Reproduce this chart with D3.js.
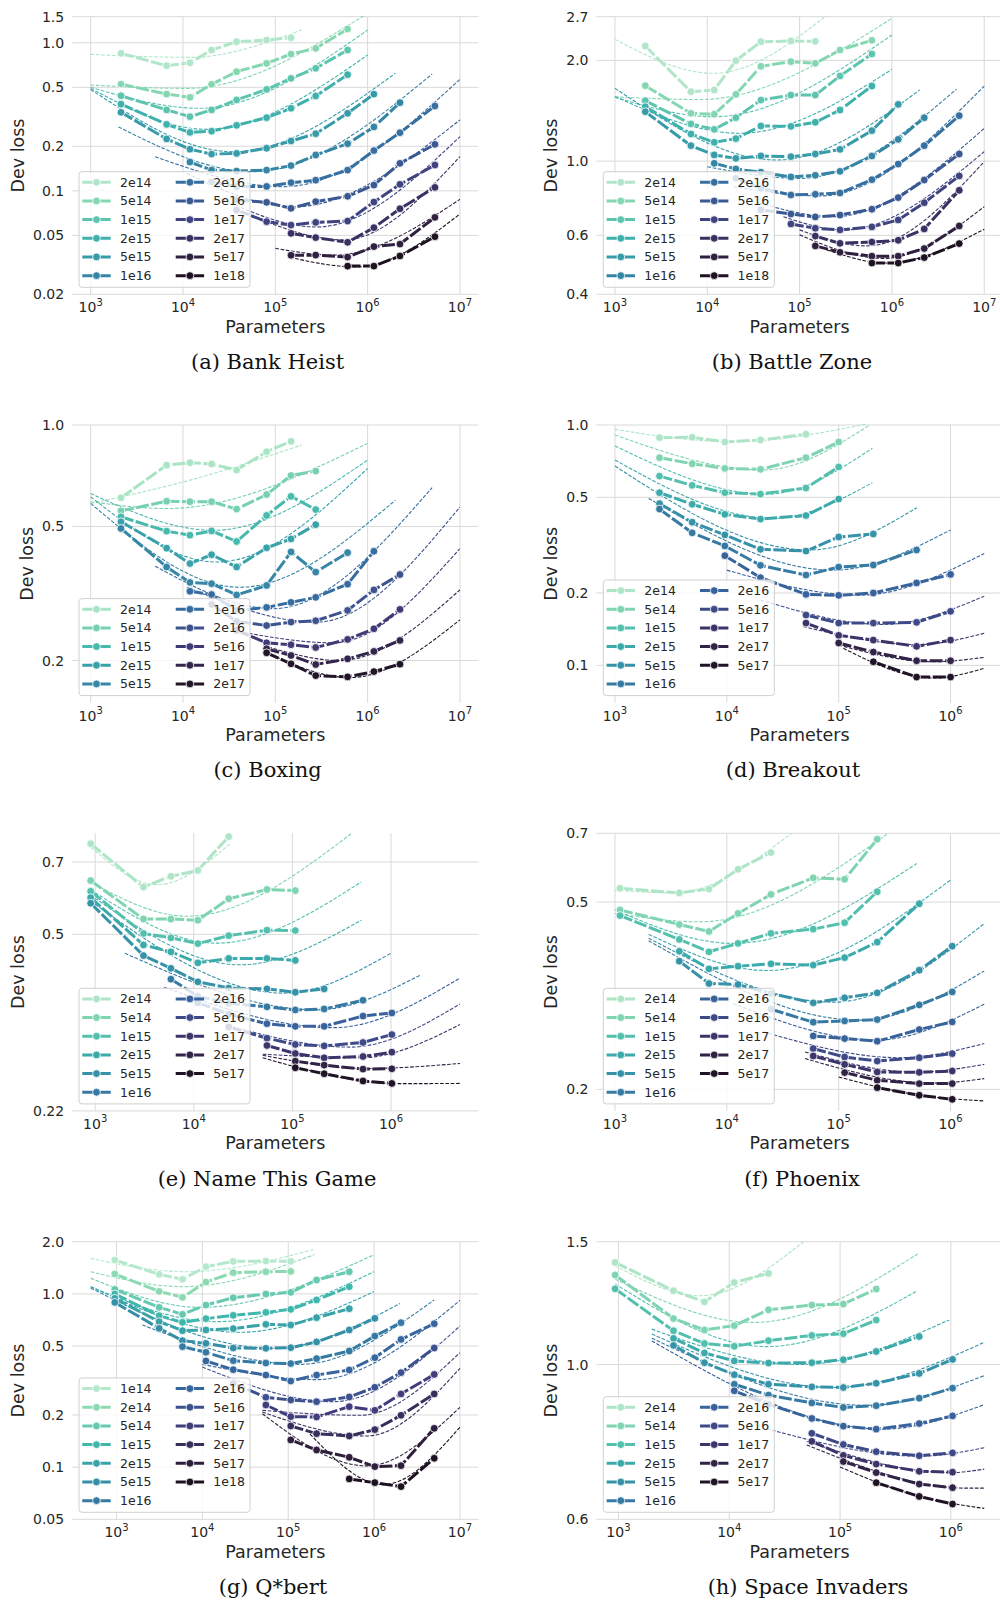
<!DOCTYPE html>
<html><head><meta charset="utf-8">
<script src="https://cdn.jsdelivr.net/npm/d3@7"></script>
<style>body{margin:0;background:#fff}svg{display:block}</style>
</head><body>
<svg id="fig" width="1000" height="1602"></svg>
<script>
// ---------------- DATA ----------------
// (a) Bank Heist
const bankHeistParams = [2130, 6650, 11900, 20400, 38100, 80500, 148000, 274000, 607000, 1170000, 2240000, 5360000];
const bankHeistBudgets = ["2e14","5e14","1e15","2e15","5e15","1e16","2e16","5e16","1e17","2e17","5e17","1e18"];
const bankHeistFirst = [0,0,0,0,0,2,3,4,4,6,6,8];
const bankHeistLoss = [
  [0.848, 0.700, 0.733, 0.893, 1.017, 1.043, 1.082],
  [0.526, 0.450, 0.428, 0.524, 0.638, 0.726, 0.839, 0.917, 1.238],
  [0.439, 0.352, 0.317, 0.352, 0.411, 0.484, 0.575, 0.672, 0.893],
  [0.385, 0.281, 0.248, 0.253, 0.277, 0.312, 0.361, 0.437, 0.609],
  [0.339, 0.224, 0.191, 0.177, 0.179, 0.194, 0.217, 0.243, 0.334, 0.450],
  [0.1565, 0.138, 0.136, 0.138, 0.148, 0.1745, 0.208, 0.270, 0.394],
  [0.115, 0.107, 0.107, 0.1135, 0.118, 0.138, 0.187, 0.247, 0.374],
  [0.0867, 0.0836, 0.0762, 0.0845, 0.0918, 0.1094, 0.1533, 0.206],
  [0.0742, 0.0619, 0.0587, 0.0612, 0.0625, 0.0840, 0.1106, 0.1494],
  [0.0516, 0.0483, 0.0449, 0.0564, 0.0757, 0.1055],
  [0.0367, 0.0368, 0.0357, 0.0420, 0.0437, 0.0662],
  [0.0310, 0.0310, 0.0363, 0.049]
];
const bankHeistFits = [
  [[1e3,0.835],[1.19e4,0.797],[1.93e5,1.219]],
  [[1e3,0.518],[1.1e4,0.492],[1e6,1.58]],
  [[1e3,0.50],[1.53e4,0.361],[1e6,1.219]],
  [[1e3,0.492],[1.8e4,0.260],[1e6,0.826]],
  [[1e3,0.484],[3.51e4,0.1838],[2e6,0.622]],
  [[2e3,0.270],[5.78e4,0.1347],[5e6,0.615]],
  [[5e3,0.170],[1.22e5,0.1066],[1e7,0.566]],
  [[1.1e4,0.131],[1.57e5,0.0779],[1e7,0.301]],
  [[2.32e4,0.0913],[2.8e5,0.0570],[1e7,0.232]],
  [[5.78e4,0.0669],[5.45e5,0.0466],[1e7,0.170]],
  [[1e5,0.0409],[4.25e5,0.0368],[1e7,0.0876]],
  [[1.44e5,0.0355],[7.6e5,0.0306],[1e7,0.0697]]
];
const bankHeistYRange = [0.02, 1.5];
const bankHeistYTicks = [0.02, 0.05, 0.1, 0.2, 0.5, 1.0, 1.5];
const bankHeistYTickLabels = ["0.02","0.05","0.1","0.2","0.5","1.0","1.5"];

// (b) Battle Zone
const battleZoneParams = [2130, 6650, 11900, 20400, 38100, 80500, 148000, 274000, 607000, 1170000, 2240000, 5360000];
const battleZoneBudgets = ["2e14","5e14","1e15","2e15","5e15","1e16","2e16","5e16","1e17","2e17","5e17","1e18"];
const battleZoneFirst = [0,0,0,0,0,2,3,4,5,6,6,8];
const battleZoneLoss = [
  [2.207, 1.612, 1.631, 1.995, 2.273, 2.284, 2.279],
  [1.680, 1.389, 1.380, 1.582, 1.919, 1.982, 1.959, 2.147, 2.295],
  [1.515, 1.291, 1.244, 1.348, 1.522, 1.575, 1.575, 1.796, 2.089],
  [1.454, 1.205, 1.138, 1.167, 1.273, 1.270, 1.306, 1.421, 1.676],
  [1.405, 1.112, 1.043, 1.019, 1.036, 1.031, 1.050, 1.084, 1.233, 1.477],
  [0.985, 0.947, 0.926, 0.897, 0.907, 0.932, 1.036, 1.161, 1.348],
  [0.888, 0.829, 0.792, 0.796, 0.803, 0.880, 0.980, 1.112, 1.367],
  [0.715, 0.695, 0.681, 0.690, 0.718, 0.778, 0.878, 1.050],
  [0.649, 0.630, 0.623, 0.636, 0.667, 0.751, 0.903],
  [0.597, 0.568, 0.573, 0.580, 0.627, 0.818],
  [0.558, 0.534, 0.520, 0.520, 0.548, 0.640],
  [0.496, 0.496, 0.515, 0.567]
];
const battleZoneFits = [
  [[1e3,2.31],[1.16e4,1.829],[2.33e5,2.83]],
  [[1e3,1.557],[8.3e3,1.527],[1e6,2.67]],
  [[1e3,1.553],[1.16e4,1.357],[1e6,2.380]],
  [[1e3,1.557],[2.26e4,1.211],[1e6,1.879]],
  [[1e3,1.65],[5.65e4,1.008],[2e6,1.631]],
  [[1e4,0.962],[1e5,0.888],[5e6,1.64]],
  [[1.92e4,0.839],[1.67e5,0.787],[1e7,1.676]],
  [[3.73e4,0.748],[2.33e5,0.682],[1e7,1.253]],
  [[6.68e4,0.682],[2.99e5,0.623],[1e7,1.067]],
  [[1e5,0.623],[5.35e5,0.558],[1e7,0.996]],
  [[1e5,0.602],[8.1e5,0.512],[1e7,0.731]],
  [[1.97e5,0.543],[8.8e5,0.496],[1e7,0.626]]
];
const battleZoneYRange = [0.4, 2.7];
const battleZoneYTicks = [0.4, 0.6, 1.0, 2.0, 2.7];
const battleZoneYTickLabels = ["0.4","0.6","1.0","2.0","2.7"];

// (c) Boxing
const boxingParams = [2130, 6650, 11900, 20400, 38100, 80500, 148000, 274000, 607000, 1170000, 2240000];
const boxingBudgets = ["2e14","5e14","1e15","2e15","5e15","1e16","2e16","5e16","1e17","2e17"];
const boxingFirst = [0,0,0,0,0,2,3,4,5,5];
const boxingLoss = [
  [0.608, 0.760, 0.773, 0.766, 0.735, 0.833, 0.894],
  [0.556, 0.594, 0.592, 0.592, 0.563, 0.622, 0.708, 0.730],
  [0.534, 0.484, 0.471, 0.485, 0.451, 0.539, 0.614, 0.561],
  [0.516, 0.431, 0.388, 0.412, 0.379, 0.432, 0.459, 0.506],
  [0.493, 0.379, 0.341, 0.338, 0.313, 0.334, 0.420, 0.366, 0.418],
  [0.321, 0.314, 0.2816, 0.2875, 0.2976, 0.308, 0.337, 0.422],
  [0.2935, 0.2612, 0.254, 0.260, 0.2624, 0.2816, 0.324, 0.360],
  [0.2456, 0.2257, 0.2227, 0.2186, 0.231, 0.2484, 0.2836],
  [0.2167, 0.2070, 0.1946, 0.2023, 0.2128, 0.2294],
  [0.2108, 0.1955, 0.1804, 0.1788, 0.1854, 0.1950]
];
const boxingFits = [
  [[1e3,0.585],[1.19e4,0.686],[1.93e5,0.872]],
  [[1e3,0.592],[6.65e3,0.565],[1e6,0.882]],
  [[1e3,0.626],[2.13e4,0.487],[1e6,0.787]],
  [[1e3,0.612],[2.32e4,0.392],[1e6,0.743]],
  [[1e3,0.585],[4.14e4,0.330],[2e6,0.598]],
  [[5e3,0.381],[9.5e4,0.285],[5e6,0.652]],
  [[1.1e4,0.330],[2.8e5,0.260],[1e7,0.571]],
  [[3.51e4,0.2456],[4.25e5,0.2257],[1e7,0.430]],
  [[7.41e4,0.2216],[5e5,0.200],[1e7,0.324]],
  [[8.05e4,0.2108],[6.44e5,0.178],[1e7,0.264]]
];
const boxingYRange = [0.15, 1.0];
const boxingYTicks = [0.2, 0.5, 1.0];
const boxingYTickLabels = ["0.2","0.5","1.0"];

// (d) Breakout
const breakoutParams = [2500, 4900, 9600, 20000, 51000, 100000, 204000, 497000, 1000000];
const breakoutBudgets = ["2e14","5e14","1e15","2e15","5e15","1e16","2e16","5e16","1e17","2e17","5e17"];
const breakoutFirst = [0,0,0,0,0,0,2,4,4,5,6];
const breakoutLoss = [
  [0.886, 0.889, 0.850, 0.866, 0.915],
  [0.731, 0.690, 0.660, 0.654, 0.731, 0.850],
  [0.613, 0.561, 0.523, 0.516, 0.547, 0.669],
  [0.523, 0.468, 0.425, 0.406, 0.420, 0.492],
  [0.471, 0.394, 0.349, 0.304, 0.299, 0.342, 0.352],
  [0.447, 0.356, 0.314, 0.2607, 0.2376, 0.2565, 0.2615, 0.302],
  [0.286, 0.2316, 0.1974, 0.1956, 0.200, 0.2202, 0.239],
  [0.162, 0.150, 0.150, 0.151, 0.1678],
  [0.150, 0.1333, 0.1274, 0.120, 0.1274],
  [0.1239, 0.1136, 0.1045, 0.1045],
  [0.1035, 0.0894, 0.0894]
];
const breakoutFits = [
  [[1e3,0.959],[1.14e4,0.852],[1.78e5,1.01]],
  [[1e3,0.909],[2.12e4,0.650],[1.9e5,1.0]],
  [[1e3,0.818],[2.27e4,0.515],[2e5,0.800]],
  [[1e3,0.715],[2.6e4,0.409],[2e5,0.575]],
  [[1e3,0.675],[5.53e4,0.302],[5e5,0.453]],
  [[2e3,0.495],[8.94e4,0.249],[1e6,0.366]],
  [[1e4,0.249],[1.55e5,0.196],[2e6,0.292]],
  [[2e4,0.187],[2.5e5,0.148],[2e6,0.194]],
  [[4.82e4,0.145],[5e5,0.122],[2e6,0.136]],
  [[1e5,0.1215],[7e5,0.1035],[2e6,0.108]],
  [[1.1e5,0.1177],[7e5,0.0886],[2e6,0.0972]]
];
const breakoutYRange = [0.07, 1.0];
const breakoutYTicks = [0.1, 0.2, 0.5, 1.0];
const breakoutYTickLabels = ["0.1","0.2","0.5","1.0"];

// (e) Name This Game
const nameThisGameParams = [900, 3090, 5860, 11000, 22600, 55200, 107000, 210000, 520000, 1020000];
const nameThisGameBudgets = ["2e14","5e14","1e15","2e15","5e15","1e16","2e16","5e16","1e17","2e17","5e17"];
const nameThisGameFirst = [0,0,0,0,0,2,3,4,5,6,6];
const nameThisGameLoss = [
  [0.762, 0.623, 0.655, 0.673, 0.788],
  [0.642, 0.537, 0.537, 0.534, 0.590, 0.616, 0.613],
  [0.611, 0.502, 0.492, 0.479, 0.497, 0.510, 0.509],
  [0.593, 0.476, 0.461, 0.438, 0.447, 0.447, 0.443],
  [0.578, 0.453, 0.427, 0.401, 0.3895, 0.388, 0.382, 0.388],
  [0.406, 0.375, 0.363, 0.357, 0.3518, 0.3534, 0.368],
  [0.364, 0.345, 0.330, 0.326, 0.326, 0.342, 0.3469],
  [0.325, 0.3085, 0.2996, 0.2977, 0.3024, 0.3138],
  [0.2982, 0.2873, 0.2816, 0.2833, 0.2891],
  [0.2773, 0.2722, 0.2672, 0.2676],
  [0.2689, 0.2615, 0.2528, 0.250]
];
const nameThisGameFits = [
  [[900,0.75],[4.23e3,0.63],[2.34e4,0.762]],
  [[900,0.637],[8.5e3,0.544],[4e5,0.80]],
  [[900,0.615],[1.71e4,0.480],[5e5,0.638]],
  [[900,0.600],[2.96e4,0.434],[5e5,0.534]],
  [[900,0.584],[8.15e4,0.3805],[1e6,0.458]],
  [[2e3,0.458],[1.77e5,0.352],[2e6,0.414]],
  [[5e3,0.391],[2.62e5,0.324],[5e6,0.408]],
  [[2.17e4,0.3275],[3.86e5,0.296],[5e6,0.3616]],
  [[5e4,0.2864],[4.88e5,0.2816],[5e6,0.3287]],
  [[5e4,0.285],[5.7e5,0.268],[5e6,0.2743]],
  [[5e4,0.2816],[1.24e6,0.2497],[5e6,0.250]]
];
const nameThisGameYRange = [0.22, 0.8];
const nameThisGameYTicks = [0.22, 0.5, 0.7];
const nameThisGameYTickLabels = ["0.22","0.5","0.7"];

// (f) Phoenix
const phoenixParams = [1110, 3760, 6920, 12600, 24800, 59200, 113000, 221000, 525000, 1035000];
const phoenixBudgets = ["2e14","5e14","1e15","2e15","5e15","1e16","2e16","5e16","1e17","2e17","5e17"];
const phoenixFirst = [0,0,0,1,1,4,5,5,5,6,7];
const phoenixLoss = [
  [0.535, 0.523, 0.533, 0.587, 0.637],
  [0.481, 0.448, 0.433, 0.473, 0.519, 0.563, 0.559, 0.680],
  [0.468, 0.4165, 0.392, 0.4085, 0.429, 0.438, 0.452, 0.526],
  [0.393, 0.3607, 0.3654, 0.3696, 0.3673, 0.381, 0.411, 0.496],
  [0.3745, 0.3357, 0.334, 0.3196, 0.3054, 0.313, 0.3207, 0.3583, 0.403],
  [0.296, 0.2778, 0.2795, 0.2814, 0.3024, 0.3222],
  [0.2598, 0.2564, 0.2531, 0.2680, 0.2782],
  [0.2442, 0.2343, 0.2297, 0.2335, 0.2382],
  [0.2355, 0.2260, 0.2178, 0.2174, 0.2188],
  [0.2171, 0.2091, 0.2057, 0.2057],
  [0.2017, 0.1943, 0.1905]
];
const phoenixFits = [
  [[1e3,0.530],[3.32e3,0.523],[3.79e4,0.70]],
  [[1e3,0.473],[5.75e3,0.454],[2.77e5,0.70]],
  [[1e3,0.481],[1.14e4,0.4085],[5e5,0.604]],
  [[2e3,0.427],[2.27e4,0.3578],[1e6,0.557]],
  [[2e3,0.419],[8.94e4,0.3064],[2e6,0.450]],
  [[2e3,0.4137],[1.55e5,0.2806],[2e6,0.357]],
  [[1.14e4,0.3043],[2.18e5,0.2545],[2e6,0.3034]],
  [[2.12e4,0.265],[3.52e5,0.2335],[2e6,0.2502]],
  [[5e4,0.2402],[4.97e5,0.2176],[2e6,0.226]],
  [[5e4,0.2325],[7e5,0.2062],[2e6,0.2108]],
  [[1e5,0.2125],[5.32e5,0.1943],[2e6,0.189]]
];
const phoenixYRange = [0.18, 0.7];
const phoenixYTicks = [0.2, 0.5, 0.7];
const phoenixYTickLabels = ["0.2","0.5","0.7"];

// (g) Q*bert
const qbertParams = [955, 3140, 5870, 11000, 22900, 54900, 107000, 214000, 514000, 1020000, 2060000, 5020000];
const qbertBudgets = ["1e14","2e14","5e14","1e15","2e15","5e15","1e16","2e16","5e16","1e17","2e17","5e17","1e18"];
const qbertFirst = [0,0,0,0,0,0,2,3,4,5,6,6,8];
const qbertLoss = [
  [1.567, 1.296, 1.213, 1.435, 1.540, 1.547, 1.540],
  [1.302, 1.034, 0.955, 1.170, 1.325, 1.342, 1.348],
  [1.062, 0.836, 0.762, 0.862, 0.950, 0.998, 1.020, 1.202, 1.342],
  [0.998, 0.748, 0.685, 0.719, 0.752, 0.782, 0.814, 0.922, 1.100],
  [0.942, 0.691, 0.613, 0.619, 0.630, 0.667, 0.661, 0.729, 0.821],
  [0.893, 0.632, 0.537, 0.518, 0.487, 0.485, 0.489, 0.528, 0.619, 0.722],
  [0.496, 0.460, 0.4115, 0.399, 0.396, 0.423, 0.468, 0.571, 0.682],
  [0.410, 0.365, 0.340, 0.314, 0.340, 0.3636, 0.428, 0.546, 0.673],
  [0.3045, 0.2529, 0.2441, 0.2387, 0.254, 0.2888, 0.351, 0.487],
  [0.2284, 0.1956, 0.1948, 0.2234, 0.2127, 0.2644, 0.343],
  [0.1728, 0.1561, 0.1513, 0.1646, 0.1991, 0.2644],
  [0.1435, 0.1256, 0.1140, 0.1007, 0.1020, 0.1675],
  [0.0855, 0.0814, 0.0772, 0.1125]
];
const qbertFits = [
  [[500,1.602],[6.55e3,1.342],[2e5,1.806]],
  [[500,1.342],[5.98e3,1.10],[2e5,1.68]],
  [[500,1.232],[9.35e3,0.836],[1e6,1.68]],
  [[500,1.10],[1.46e4,0.691],[1e6,1.342]],
  [[500,1.10],[2.73e4,0.60],[1e6,1.03]],
  [[500,1.08],[6.69e4,0.485],[2e6,0.88]],
  [[2e3,0.661],[1.37e5,0.392],[5e6,0.922]],
  [[1e4,0.392],[2.14e5,0.32],[1e7,0.917]],
  [[1e4,0.378],[3.34e5,0.2387],[1e7,0.652]],
  [[5e4,0.2127],[6.84e5,0.1991],[1e7,0.4576]],
  [[5e4,0.208],[8.18e5,0.1513],[1e7,0.3717]],
  [[5e4,0.2033],[8.18e5,0.1017],[1e7,0.2214]],
  [[1.79e5,0.1553],[1.28e6,0.0793],[1e7,0.1698]]
];
const qbertYRange = [0.05, 2.0];
const qbertYTicks = [0.05, 0.1, 0.2, 0.5, 1.0, 2.0];
const qbertYTickLabels = ["0.05","0.1","0.2","0.5","1.0","2.0"];

// (h) Space Invaders
const spaceInvadersParams = [933, 3140, 5970, 11100, 22600, 55600, 107000, 212000, 518000, 1035000];
const spaceInvadersBudgets = ["2e14","5e14","1e15","2e15","5e15","1e16","2e16","5e16","1e17","2e17","5e17"];
const spaceInvadersFirst = [0,0,0,1,1,3,3,5,5,6,7];
const spaceInvadersLoss = [
  [1.401, 1.276, 1.230, 1.311, 1.351],
  [1.344, 1.164, 1.121, 1.137, 1.198, 1.217, 1.221, 1.283],
  [1.284, 1.118, 1.072, 1.062, 1.082, 1.101, 1.107, 1.158],
  [1.090, 1.039, 1.012, 1.005, 1.006, 1.016, 1.044, 1.097],
  [1.065, 1.006, 0.967, 0.937, 0.929, 0.927, 0.940, 0.971, 1.017],
  [0.937, 0.904, 0.881, 0.868, 0.873, 0.895, 0.925],
  [0.917, 0.877, 0.837, 0.816, 0.808, 0.823, 0.844],
  [0.797, 0.768, 0.750, 0.740, 0.747],
  [0.776, 0.741, 0.720, 0.703, 0.701],
  [0.726, 0.700, 0.674, 0.666],
  [0.677, 0.647, 0.631]
];
const spaceInvadersFits = [
  [[930,1.386],[5.46e3,1.255],[4.68e4,1.5]],
  [[930,1.326],[1.66e4,1.149],[5e5,1.44]],
  [[930,1.305],[2.18e4,1.061],[5e5,1.276]],
  [[2e3,1.124],[4.37e4,1.0],[1e6,1.162]],
  [[2e3,1.106],[8.73e4,0.927],[2e6,1.076]],
  [[2e3,1.091],[1.75e5,0.874],[2e6,0.964]],
  [[2e3,1.081],[2.47e5,0.808],[2e6,0.876]],
  [[2.18e4,0.809],[5.29e5,0.739],[2e6,0.760]],
  [[5e4,0.776],[9.86e5,0.700],[2e6,0.708]],
  [[5e4,0.767],[1.4e6,0.665],[2e6,0.665]],
  [[1e5,0.713],[5.18e5,0.647],[2e6,0.622]]
];
const spaceInvadersYRange = [0.6, 1.5];
const spaceInvadersYTicks = [0.6, 1.0, 1.5];
const spaceInvadersYTickLabels = ["0.6","1.0","1.5"];

// ---------------- DRAWING ----------------
const panels = [
  {params: bankHeistParams, budgets: bankHeistBudgets, first: bankHeistFirst, loss: bankHeistLoss, fits: bankHeistFits,
   yr: bankHeistYRange, yt: bankHeistYTicks, ytl: bankHeistYTickLabels, caption: "(a) Bank Heist", col: 0, row: 0, capX: 267.6},
  {params: battleZoneParams, budgets: battleZoneBudgets, first: battleZoneFirst, loss: battleZoneLoss, fits: battleZoneFits,
   yr: battleZoneYRange, yt: battleZoneYTicks, ytl: battleZoneYTickLabels, caption: "(b) Battle Zone", col: 1, row: 0, capX: 792},
  {params: boxingParams, budgets: boxingBudgets, first: boxingFirst, loss: boxingLoss, fits: boxingFits,
   yr: boxingYRange, yt: boxingYTicks, ytl: boxingYTickLabels, caption: "(c) Boxing", col: 0, row: 1, capX: 267.6},
  {params: breakoutParams, budgets: breakoutBudgets, first: breakoutFirst, loss: breakoutLoss, fits: breakoutFits,
   yr: breakoutYRange, yt: breakoutYTicks, ytl: breakoutYTickLabels, caption: "(d) Breakout", col: 1, row: 1, capX: 793},
  {params: nameThisGameParams, budgets: nameThisGameBudgets, first: nameThisGameFirst, loss: nameThisGameLoss, fits: nameThisGameFits,
   yr: nameThisGameYRange, yt: nameThisGameYTicks, ytl: nameThisGameYTickLabels, caption: "(e) Name This Game", col: 0, row: 2, capX: 267},
  {params: phoenixParams, budgets: phoenixBudgets, first: phoenixFirst, loss: phoenixLoss, fits: phoenixFits,
   yr: phoenixYRange, yt: phoenixYTicks, ytl: phoenixYTickLabels, caption: "(f) Phoenix", col: 1, row: 2, capX: 802},
  {params: qbertParams, budgets: qbertBudgets, first: qbertFirst, loss: qbertLoss, fits: qbertFits,
   yr: qbertYRange, yt: qbertYTicks, ytl: qbertYTickLabels, caption: "(g) Q*bert", col: 0, row: 3, capX: 273},
  {params: spaceInvadersParams, budgets: spaceInvadersBudgets, first: spaceInvadersFirst, loss: spaceInvadersLoss, fits: spaceInvadersFits,
   yr: spaceInvadersYRange, yt: spaceInvadersYTicks, ytl: spaceInvadersYTickLabels, caption: "(h) Space Invaders", col: 1, row: 3, capX: 808}
];

const svg = d3.select("#fig");
const colX = [72.2, 596.5], W = 406.2;
const rowY = [16.7, 425, 833.3, 1241.7], H = 277.6;
const makoStops = ["#0b0405","#2e1e3b","#413d7b","#37659e","#348fa7","#40b7ad","#8bdab2","#def5e5"];
const mako = d3.piecewise(d3.interpolateRgb, makoStops);
const SANS = "DejaVu Sans, sans-serif";
const TXT = "#262626";
const GRID = "#d9d9d9";

panels.forEach((p, pi) => {
  const x0 = colX[p.col], y0 = rowY[p.row];
  const n = p.budgets.length;
  const color = i => mako(1 - (i + 1) / (n + 1));
  const logs = p.params.concat(p.fits.flat().map(d => d[0])).map(Math.log10);
  const [lo, hi] = d3.extent(logs);
  const pad = (hi - lo) * 0.05;
  const x = d3.scaleLog().domain([Math.pow(10, lo - pad), Math.pow(10, hi + pad)]).range([x0, x0 + W]);
  const y = d3.scaleLog().domain(p.yr).range([y0 + H, y0]);
  const g = svg.append("g");
  const clipId = "clip" + pi;
  g.append("clipPath").attr("id", clipId).append("rect")
    .attr("x", x0).attr("y", y0 - 1).attr("width", W).attr("height", H + 2);

  // grid
  const decades = d3.range(Math.ceil(lo - pad), Math.floor(hi + pad) + 1);
  g.selectAll(".vg").data(decades).join("line")
    .attr("x1", d => x(Math.pow(10, d))).attr("x2", d => x(Math.pow(10, d)))
    .attr("y1", y0).attr("y2", y0 + H).attr("stroke", GRID).attr("stroke-width", 1);
  g.selectAll(".hg").data(p.yt).join("line")
    .attr("x1", x0).attr("x2", x0 + W).attr("y1", d => y(d)).attr("y2", d => y(d))
    .attr("stroke", GRID).attr("stroke-width", 1);

  // y tick labels
  const ytl = g.selectAll(".ytl").data(p.yt).join("text")
    .attr("x", x0 - 8).attr("y", d => y(d)).attr("dy", "0.36em")
    .attr("text-anchor", "end").attr("font-family", SANS).attr("font-size", 14).attr("fill", TXT)
    .text((d, i) => p.ytl[i]);
  let maxW = 0;
  ytl.each(function () { maxW = Math.max(maxW, this.getComputedTextLength()); });

  // x tick labels
  decades.forEach(d => {
    const t = g.append("text").attr("x", x(Math.pow(10, d))).attr("y", y0 + H + 18)
      .attr("text-anchor", "middle").attr("font-family", SANS).attr("font-size", 14).attr("fill", TXT);
    t.append("tspan").text("10");
    t.append("tspan").attr("font-size", 10).attr("dy", -6.5).text(String(d));
  });

  // axis labels
  const ylx = x0 - 8 - maxW - 15;
  g.append("text").attr("transform", `translate(${ylx},${y0 + H / 2}) rotate(-90)`)
    .attr("text-anchor", "middle").attr("dy", "0.35em")
    .attr("font-family", SANS).attr("font-size", 17.5).attr("fill", TXT).text("Dev loss");
  g.append("text").attr("x", x0 + W / 2).attr("y", y0 + H + 38.5)
    .attr("text-anchor", "middle").attr("font-family", SANS).attr("font-size", 17.5).attr("fill", TXT)
    .text("Parameters");
  g.append("text").attr("x", p.capX).attr("y", y0 + H + 74.7)
    .attr("text-anchor", "middle").attr("font-family", "DejaVu Serif, serif").attr("font-size", 21)
    .attr("fill", "#111").text(p.caption);

  const plot = g.append("g").attr("clip-path", `url(#${clipId})`);
  // fitted curves
  const fitLine = d3.line().x(d => x(d[0])).y(d => y(d[1])).curve(d3.curveMonotoneX);
  p.fits.forEach((f, i) => {
    plot.append("path").attr("d", fitLine(f)).attr("fill", "none")
      .attr("stroke", color(i)).attr("stroke-width", 1.1).attr("stroke-dasharray", "3.7,1.6");
  });
  // measured curves
  const dataLine = d3.line().x(d => x(d[0])).y(d => y(d[1]));
  p.loss.forEach((vals, i) => {
    const pts = vals.map((v, k) => [p.params[p.first[i] + k], v]);
    plot.append("path").attr("d", dataLine(pts)).attr("fill", "none")
      .attr("stroke", color(i)).attr("stroke-width", 3).attr("stroke-dasharray", "13,2.5")
      .attr("stroke-linecap", "butt");
    plot.selectAll(null).data(pts).join("circle")
      .attr("cx", d => x(d[0])).attr("cy", d => y(d[1])).attr("r", 3.9)
      .attr("fill", color(i)).attr("stroke", "#fff").attr("stroke-width", 0.8);
  });

  // legend
  const rows = Math.ceil(n / 2);
  const rowH = 18.67;
  const lh = rows * rowH + 3.6, lw = 171;
  const lx = x0 + 6.8, ly = y0 + H - 7 - lh;
  const leg = g.append("g");
  leg.append("rect").attr("x", lx).attr("y", ly).attr("width", lw).attr("height", lh)
    .attr("rx", 3).attr("fill", "#fff").attr("fill-opacity", 0.8)
    .attr("stroke", "#d0d0d0").attr("stroke-width", 1);
  p.budgets.forEach((b, i) => {
    const c = i < rows ? 0 : 1, r = i < rows ? i : i - rows;
    const cy = ly + 10.6 + r * rowH;
    const hx = lx + 3.3 + c * 93.4;
    leg.append("line").attr("x1", hx).attr("x2", hx + 28.4).attr("y1", cy).attr("y2", cy)
      .attr("stroke", color(i)).attr("stroke-width", 3).attr("stroke-dasharray", "11.5,5.4");
    leg.append("circle").attr("cx", hx + 14.2).attr("cy", cy).attr("r", 3.9)
      .attr("fill", color(i)).attr("stroke", "#fff").attr("stroke-width", 0.8);
    leg.append("text").attr("x", lx + 41 + c * 93.3).attr("y", cy).attr("dy", "0.36em")
      .attr("font-family", SANS).attr("font-size", 12.5).attr("fill", TXT).text(b);
  });
});
</script>
</body></html>
